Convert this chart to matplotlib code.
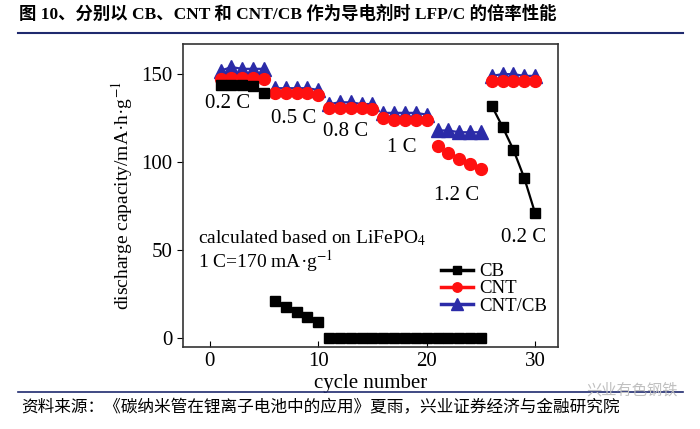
import matplotlib
matplotlib.use("Agg")
import matplotlib.pyplot as plt
from matplotlib.lines import Line2D

plt.rcParams['font.family'] = ['Liberation Serif', 'Noto Sans CJK SC', 'DejaVu Sans']
plt.rcParams['mathtext.fontset'] = 'stix'

cycles = list(range(1, 31))
cb = [144, 144, 144, 143, 139,
      21, 18, 15, 12, 9.5,
      0, 0, 0, 0, 0, 0, 0, 0, 0, 0, 0, 0, 0, 0, 0,
      132, 120, 107, 91, 71]
cnt = [147, 148, 148, 148, 147,
       139, 139, 139, 139, 138,
       131, 131, 131, 131, 130,
       125, 124, 124, 124, 124,
       109, 105, 102, 99, 96,
       146, 146, 146, 146, 146]
cnt_cb = [152, 154, 153, 153, 153,
          142, 142, 142, 142, 141,
          133, 134, 134, 133, 133,
          128, 128, 128, 128, 127,
          118, 118, 117, 117, 117,
          149, 150, 150, 149, 149]

rate_labels = ["0.2 C", "0.5 C", "0.8 C", "1 C", "1.2 C", "0.2 C"]
rate_pos = [(1.6, 133.5), (7.7, 125), (12.5, 117.5), (17.7, 108.5), (22.8, 81), (28.9, 57)]

fig = plt.figure(figsize=(7, 4.29), dpi=100)
ax = fig.add_axes([0.261, 0.191, 0.536, 0.706])

series = [(cb, 'black', 's', 7.5, 'CB', 3),
          (cnt, '#ff1010', 'o', 8.5, 'CNT', 2),
          (cnt_cb, '#2b2ba8', '^', 10, 'CNT/CB', 1)]
# each rate step (5 cycles) is drawn as its own piece
for vals, col, mk, ms, lab, z in series:
    for i in range(0, 30, 5):
        ax.plot(cycles[i:i + 5], vals[i:i + 5], color=col, marker=mk, ms=ms, lw=1.6,
                label=lab if i == 0 else None, zorder=z)

for lab, (x, y) in zip(rate_labels, rate_pos):
    ax.text(x, y, lab, fontsize=15, ha='center', va='center')

ax.text(-1.1, 57, "calculated based on LiFePO$_4$", fontsize=14, va='center')
ax.text(-1.1, 44, "1 C=170 mA·g$^{-1}$", fontsize=14, va='center')

ax.set_xlim(-2.5, 32.1)
ax.set_ylim(-5, 167)
ax.set_xticks([0, 10, 20, 30])
ax.set_yticks([0, 50, 100, 150])
ax.tick_params(axis='x', direction='in', labelsize=15, length=4)
ax.tick_params(axis='y', direction='out', labelsize=15, length=4)
ax.set_xlabel("cycle number", fontsize=15, labelpad=2)
ax.set_ylabel("discharge capacity/mA·h·g$^{-1}$", fontsize=14, labelpad=4)
for s in ax.spines.values():
    s.set_color('#333333')
    s.set_linewidth(1.2)

leg = ax.legend(loc='lower right', bbox_to_anchor=(1.0, 0.07), frameon=False, fontsize=13.5,
                handlelength=1.7, handletextpad=0.3, labelspacing=0.0, borderaxespad=0.2,
                markerscale=0.8)
for h in leg.legend_handles:
    h.set_linewidth(2.5)

fig.text(0.027, 0.967, "图 10、分别以 CB、CNT 和 CNT/CB 作为导电剂时 LFP/C 的倍率性能",
         fontsize=12.5, fontweight='bold', va='center', ha='left')
fig.add_artist(Line2D([0.026, 0.976], [0.922, 0.922], color='#1f2a6e', lw=1.5))
fig.add_artist(Line2D([0.026, 0.976], [0.087, 0.087], color='#1f2a6e', lw=1.2))
fig.text(0.03, 0.048, "资料来源：《碳纳米管在锂离子电池中的应用》夏雨，兴业证券经济与金融研究院",
         fontsize=12, va='center', ha='left')
fig.text(0.968, 0.09, "兴业有色钢铁", fontsize=11, va='center', ha='right', color='#c0c0c0')

fig.savefig("out.png", dpi=100)
